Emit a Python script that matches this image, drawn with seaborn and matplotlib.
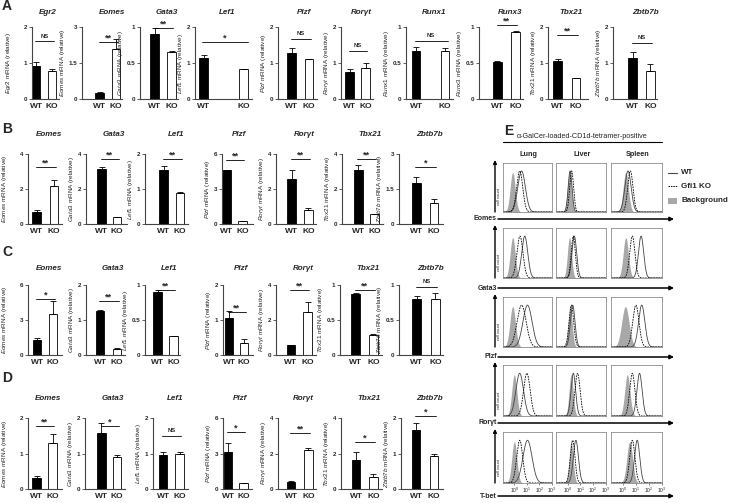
import numpy as np
import pandas as pd
import matplotlib
matplotlib.use("Agg")
import matplotlib.pyplot as plt
import seaborn as sns

sns.set_theme(style="white")
plt.rcParams["font.family"] = ["Liberation Sans", "DejaVu Sans"]
plt.rcParams["mathtext.fontset"] = "custom"
plt.rcParams["mathtext.rm"] = "Liberation Sans"
plt.rcParams["mathtext.it"] = "Liberation Sans:italic"
plt.rcParams["mathtext.bf"] = "Liberation Sans:bold"

# ---------------- data ----------------
genotypes = ["WT", "KO"]

a_genes = ["Egr2", "Eomes", "Gata3", "Lef1", "Plzf", "Rorγt", "Runx1", "Runx3", "Tbx21", "Zbtb7b"]
a_wt = [0.92, 0.25, 0.90, 1.13, 1.27, 0.76, 0.66, 0.51, 1.06, 1.13]
a_wt_err = [0.10, 0.03, 0.08, 0.10, 0.15, 0.06, 0.06, 0.02, 0.04, 0.18]
a_ko = [0.77, 2.10, 0.65, 0.82, 1.10, 0.85, 0.67, 0.93, 0.57, 0.77]
a_ko_err = [0.05, 0.38, 0.01, 0.02, 0.0, 0.16, 0.04, 0.02, 0.02, 0.20]
a_ymax = [2, 3, 1, 2, 2, 2, 1, 1, 2, 2]
a_sig = ["NS", "**", "**", "*", "NS", "NS", "NS", "**", "**", "NS"]
a_sig_y = [1.6, 2.38, 0.985, 1.58, 1.67, 1.34, 0.81, 1.03, 1.77, 1.55]

bcd_genes = ["Eomes", "Gata3", "Lef1", "Plzf", "Rorγt", "Tbx21", "Zbtb7b"]

b_wt = [0.70, 3.15, 1.55, 4.60, 2.58, 3.10, 1.75]
b_wt_err = [0.10, 0.12, 0.10, 0.05, 0.50, 0.25, 0.28]
b_ko = [2.20, 0.38, 0.88, 0.25, 0.82, 0.57, 0.88]
b_ko_err = [0.30, 0.0, 0.03, 0.0, 0.12, 0.0, 0.20]
b_ymax = [4, 4, 2, 6, 4, 4, 3]
b_sig = ["**", "**", "**", "**", "**", "**", "*"]
b_sig_y = [3.26, 3.7, 1.86, 5.46, 3.7, 3.7, 2.44]

c_wt = [1.27, 1.25, 0.90, 1.05, 0.60, 0.87, 0.80]
c_wt_err = [0.15, 0.05, 0.03, 0.20, 0.0, 0.02, 0.05]
c_ko = [3.55, 0.18, 0.27, 0.35, 2.45, 0.28, 0.80]
c_ko_err = [1.05, 0.03, 0.0, 0.12, 0.60, 0.02, 0.08]
c_ymax = [6, 2, 1, 2, 4, 1, 1]
c_sig = ["*", "**", "**", "**", "**", "**", "NS"]
c_sig_y = [4.77, 1.54, 0.93, 1.23, 3.71, 0.93, 0.97]

d_wt = [0.30, 1.57, 0.97, 3.10, 0.37, 1.65, 1.67]
d_wt_err = [0.06, 0.30, 0.06, 0.80, 0.06, 0.45, 0.18]
d_ko = [1.30, 0.90, 1.00, 0.50, 2.20, 0.70, 0.93]
d_ko_err = [0.25, 0.05, 0.03, 0.0, 0.12, 0.15, 0.06]
d_ymax = [2, 2, 2, 6, 4, 4, 2]
d_sig = ["**", "*", "NS", "*", "**", "*", "*"]
d_sig_y = [1.78, 1.78, 1.5, 4.79, 3.14, 2.67, 2.05]

# Flow-cytometry histograms (peak positions in log10 units, widths)
e_rows = ["Eomes", "Gata3", "Plzf", "Rorγt", "T-bet"]
e_cols = ["Lung", "Liver", "Spleen"]
e_bg_peak = [[-0.13, 0.15, 0.23], [-0.13, 0.15, 0.23], [-0.13, 0.2, 0.2],
             [0.0, 0.28, 0.35], [0.0, 0.28, 0.53]]
e_wt_peak = [[0.58, 0.2, 0.4], [0.83, 0.53, 1.4], [1.05, 0.4, 1.45],
             [0.43, 0.45, 1.28], [1.05, 0.65, 1.1]]
e_ko_peak = [[0.43, 0.32, 0.58], [0.45, 0.45, 0.73], [0.58, 0.3, 1.0],
             [1.0, 0.78, 0.73], [0.43, 0.4, 0.73]]
e_bg_sd = [[0.2, 0.16, 0.2], [0.2, 0.16, 0.2], [0.22, 0.16, 0.28],
           [0.2, 0.16, 0.2], [0.2, 0.16, 0.22]]
e_wt_sd = [[0.3, 0.15, 0.24], [0.24, 0.18, 0.2], [0.36, 0.18, 0.24],
           [0.3, 0.18, 0.2], [0.36, 0.2, 0.2]]
e_ko_sd = [[0.24, 0.15, 0.2], [0.24, 0.16, 0.2], [0.36, 0.18, 0.24],
           [0.26, 0.2, 0.2], [0.24, 0.18, 0.2]]
e_ticklabels = ["$10^0$", "$10^1$", "$10^2$", "$10^3$"]

# ---------------- layout (pixels) ----------------
W, H = 731, 503
fig = plt.figure(figsize=(W / 100, H / 100), dpi=100)
fig.patch.set_facecolor("white")

a_spine = [32, 82, 140, 195, 278, 341, 406, 479, 548, 613]
a_wtx = [36, 99.5, 154.5, 203.5, 291.5, 349.5, 416, 497.5, 557.5, 632.5]
a_kox = [52, 116, 171.5, 243.5, 309, 365.7, 445, 515.5, 576, 650.3]
a_right = [59, 122, 178, 252, 317, 373, 453, 523, 588, 657]

b_spine = [28, 86, 145, 222, 276, 342, 399]
b_wtx = [36.5, 101.7, 163.7, 226.7, 291.7, 358.3, 416.3]
b_kox = [54, 117, 180, 242.7, 308.3, 374.7, 433.8]
b_right = [62, 127, 188, 253, 316, 383, 443]

c_spine = [28, 86, 145, 223, 276, 340, 399]
c_wtx = [37, 100, 157.5, 229, 290.8, 355.7, 416.7]
c_kox = [53.2, 117, 173.5, 244, 307.5, 373.3, 435.5]
c_right = [62, 125, 180, 253, 316, 382, 443]

d_spine = [28, 85, 153, 223, 278, 341, 401]
d_wtx = [36.5, 101.3, 163, 228, 291.2, 356.2, 416.2]
d_kox = [52.5, 117.2, 179.7, 243.7, 308.3, 373.3, 434.2]
d_right = [62, 125, 188, 252, 316, 382, 443]

SPINE_C = "#444444"


def bar_panel(gene, wt, wt_err, ko, ko_err, ymax, sig, sig_y,
              spine, wtx, kox, right, top, bottom, title_y, first, barpx=8.5):
    ax = fig.add_axes([spine / W, 1 - bottom / H, (right - spine) / W, (bottom - top) / H])
    ppu = kox - wtx
    df = pd.DataFrame({"genotype": genotypes, "value": [wt, ko]})
    sns.barplot(data=df, x="genotype", y="value", hue="genotype", order=genotypes,
                hue_order=genotypes, palette={"WT": "black", "KO": "white"},
                width=barpx / ppu, dodge=False, edgecolor="black", linewidth=0.6,
                errorbar=None, legend=False, ax=ax)
    ax.errorbar([0, 1], [wt, ko], yerr=[[0, 0], [wt_err, ko_err]], fmt="none",
                ecolor="black", elinewidth=0.6, capsize=2, capthick=0.6, zorder=3)
    ax.set_xlim((spine - wtx) / ppu, (right - wtx) / ppu)
    ax.set_ylim(0, ymax)
    ax.set_yticks([0, ymax / 2, ymax])
    ax.set_yticklabels([f"{v:g}" for v in [0, ymax / 2, ymax]], fontsize=4.5, fontweight="bold")
    ax.set_xticks([0, 1])
    ax.set_xticklabels(genotypes, fontsize=6, fontweight="bold")
    ax.set_xticks([0.5], minor=True)
    ax.tick_params(axis="x", which="major", length=0, pad=3)
    ax.tick_params(axis="x", which="minor", length=2, width=0.6, color=SPINE_C, direction="out")
    ax.tick_params(axis="y", length=2, width=0.6, color=SPINE_C, pad=1.5, direction="out", left=True)
    for s in ["top", "right"]:
        ax.spines[s].set_visible(False)
    for s in ["left", "bottom"]:
        ax.spines[s].set_color(SPINE_C)
        ax.spines[s].set_linewidth(0.8)
    ax.set_xlabel("")
    ax.set_ylabel(f"$\\mathit{{{gene}}}$ mRNA (relative)", fontsize=4.6,
                  labelpad=(8 if first else 1.2))
    ax.plot([-0.05, 1.1], [sig_y, sig_y], color="black", lw=0.6, clip_on=False)
    if sig == "NS":
        ax.annotate(sig, (0.52, sig_y), xytext=(0, 2), textcoords="offset points",
                    ha="center", va="bottom", fontsize=4.2, fontweight="bold", annotation_clip=False)
    else:
        ax.annotate(sig, (0.52, sig_y), xytext=(0, -0.5), textcoords="offset points",
                    ha="center", va="bottom", fontsize=6.5, fontweight="bold", annotation_clip=False)
    fig.text((wtx + kox) / 2 / W + 4 / W, 1 - title_y / H, gene, ha="center", va="center",
             fontsize=5.8, fontweight="bold", fontstyle="italic")
    return ax


for i, g in enumerate(a_genes):
    bar_panel(g, a_wt[i], a_wt_err[i], a_ko[i], a_ko_err[i], a_ymax[i], a_sig[i], a_sig_y[i],
              a_spine[i], a_wtx[i], a_kox[i], a_right[i], 27, 99, 12, i == 0)

rows_bcd = [
    (b_wt, b_wt_err, b_ko, b_ko_err, b_ymax, b_sig, b_sig_y, b_spine, b_wtx, b_kox, b_right, 154, 224, 134),
    (c_wt, c_wt_err, c_ko, c_ko_err, c_ymax, c_sig, c_sig_y, c_spine, c_wtx, c_kox, c_right, 285, 355, 268),
    (d_wt, d_wt_err, d_ko, d_ko_err, d_ymax, d_sig, d_sig_y, d_spine, d_wtx, d_kox, d_right, 418, 489, 398),
]
for (wt, wte, ko, koe, ym, sg, sgy, sp, wx, kx, rt, top, bot, ty) in rows_bcd:
    for i, g in enumerate(bcd_genes):
        bar_panel(g, wt[i], wte[i], ko[i], koe[i], ym[i], sg[i], sgy[i],
                  sp[i], wx[i], kx[i], rt[i], top, bot, ty, i == 0)

# ---------------- panel E ----------------
e_box_x = [(503, 552), (556, 606), (611, 662)]
e_box_y = [(163, 212), (228, 278), (297, 347), (365, 416), (432, 483)]
e_arrow_y = [219, 288, 357, 423, 496]
xs = np.linspace(-0.9, 3.0, 400)


def peak(c, s):
    return np.exp(-0.5 * ((xs - c) / s) ** 2)


for r in range(len(e_rows)):
    for c in range(len(e_cols)):
        x0, x1 = e_box_x[c]
        y0, y1 = e_box_y[r]
        ax = fig.add_axes([x0 / W, 1 - y1 / H, (x1 - x0) / W, (y1 - y0) / H])
        ax.fill_between(xs, peak(e_bg_peak[r][c], e_bg_sd[r][c]) * 0.85, color="#a8a8a8", lw=0)
        ax.plot(xs, peak(e_wt_peak[r][c], e_wt_sd[r][c]) * 0.88, color="#444444", lw=0.6)
        ax.plot(xs, peak(e_ko_peak[r][c], e_ko_sd[r][c]) * 0.88, color="black", lw=0.6,
                ls=(0, (2, 1.2)))
        ax.set_xlim(-0.9, 3.0)
        ax.set_ylim(0, 1.05)
        for s in ax.spines.values():
            s.set_color("#8c8c8c")
            s.set_linewidth(0.6)
        if r == len(e_rows) - 1:
            ax.set_xticks([0, 1, 2, 3])
            ax.set_xticklabels(e_ticklabels, fontsize=3.6)
            ax.tick_params(axis="x", length=1.2, width=0.4, pad=1, bottom=True)
        else:
            ax.set_xticks([])
        ax.set_yticks([])

ov = fig.add_axes([0, 0, 1, 1])
ov.set_xlim(0, W)
ov.set_ylim(H, 0)
ov.axis("off")
ov.patch.set_visible(False)

for lbl, x, y in [("A", 2, 6), ("B", 2, 129), ("C", 2, 252), ("D", 2, 378), ("E", 504, 131)]:
    ov.text(x, y, lbl, fontsize=10, fontweight="bold", ha="left", va="center")

ov.text(582, 136, "α-GalCer-loaded-CD1d-tetramer-positive", fontsize=5.2, ha="center", va="center")
ov.plot([503, 662], [142, 142], color="black", lw=0.8)
for c, name in enumerate(e_cols):
    ov.text((e_box_x[c][0] + e_box_x[c][1]) / 2 + 1, 154, name, fontsize=5.2,
            fontweight="bold", ha="center", va="center")

for r, name in enumerate(e_rows):
    ya = e_arrow_y[r]
    ov.annotate("", xy=(674, ya), xytext=(498, ya),
                arrowprops=dict(arrowstyle="-|>", lw=1.1, color="black", mutation_scale=6,
                                shrinkA=0, shrinkB=0))
    ov.text(497, ya, name, fontsize=5, fontweight="bold", ha="right", va="center")
    y0, y1 = e_box_y[r]
    ov.annotate("", xy=(495, y0 - 3), xytext=(495, y1),
                arrowprops=dict(arrowstyle="-|>", lw=1.0, color="black", mutation_scale=5,
                                shrinkA=0, shrinkB=0))
    ov.text(499.5, y1 - 16, "cell count", fontsize=3.0, rotation=90, ha="center", va="center")

# legend
ov.plot([668, 677], [173, 173], color="#444444", lw=0.8)
ov.text(681, 173, "WT", fontsize=5.8, fontweight="bold", va="center")
ov.plot([668, 677], [186, 186], color="black", lw=0.7, ls=(0, (1.5, 1)))
ov.text(681, 186, "Gfi1 KO", fontsize=5.8, fontweight="bold", va="center")
ov.add_patch(plt.Rectangle((668, 198), 9, 6, color="#a8a8a8", lw=0))
ov.text(681, 201, "Background", fontsize=5.8, fontweight="bold", va="center")

fig.savefig("out.png", dpi=100, facecolor="white")
